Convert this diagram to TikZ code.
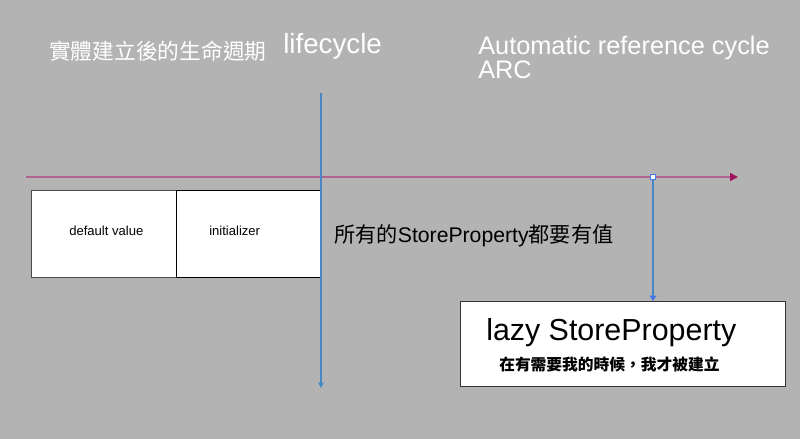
\documentclass[tikz,border=0pt]{standalone}
\usepackage{fontspec}
\setmainfont{Liberation Sans}
\newfontfamily\cjk{Noto Sans CJK TC}
\newfontfamily\cjkmed{Noto Sans CJK TC Medium}
\usetikzlibrary{arrows.meta}
\definecolor{bg}{RGB}{179,179,179}
\definecolor{tline}{RGB}{178,100,145}
\definecolor{ttip}{RGB}{160,20,95}
\definecolor{vline}{RGB}{72,135,195}
\definecolor{vtip}{RGB}{70,120,230}
\tikzset{
  px/.style={x=0.75pt,y=-0.75pt},
  wbox/.style={draw=black,line width=1.1pt,fill=white,inner sep=0pt,anchor=north west},
  small/.style={font=\fontsize{9.8pt}{11pt}\selectfont,anchor=west,inner sep=0pt},
  wtext/.style={text=white,inner sep=0pt,anchor=west},
}
\begin{document}
\begin{tikzpicture}[px]
\fill[bg] (0,0) rectangle (800,439);
\useasboundingbox (0,0) rectangle (800,439);
% titles
\node[wtext,font=\cjk\fontsize{16.3pt}{18pt}\selectfont] (title) at (49,51) {實體建立後的生命週期};
\node[wtext,font=\fontsize{20.8pt}{22pt}\selectfont] (life) at (283,46) {lifecycle};
\node[wtext,font=\fontsize{19pt}{21pt}\selectfont,align=left,anchor=north west] (arc) at (478,36) {Automatic reference cycle\\[-3pt]ARC};
% boxes
\node[wbox,draw=black!70,minimum width=145*0.75pt,minimum height=87*0.75pt] (dv) at (31,190) {};
\node[small] (dvt) at (69,231) {default value};
\node[wbox,minimum width=145*0.75pt,minimum height=87*0.75pt] (ini) at (176,190) {};
\node[small] (init) at (209,231) {initializer};
% all store property text
\node[anchor=west,inner sep=0pt,font=\fontsize{15.9pt}{17pt}\selectfont] (allsp) at (334,236) {\cjk 所有的\rmfamily StoreProperty\cjk 都要有值};
% lazy box
\node[wbox,draw=black!80,minimum width=325*0.75pt,minimum height=85*0.75pt] (lazy) at (460,301) {};
\node[anchor=west,inner sep=0pt,font=\fontsize{22.8pt}{24pt}\selectfont] (lazyt) at (486,333) {lazy StoreProperty};
\node[anchor=west,inner sep=0pt,font=\cjk\bfseries\fontsize{11.8pt}{13pt}\selectfont] (lazyc) at (499,364) {在有需要我的時候，我才被建立};
% timeline
\coordinate (hs) at (26,177);
\coordinate (he) at (738,177);
\draw[tline,line width=1.3pt,-{Triangle[length=6pt,width=6pt,color=ttip]}] (hs) -- (he);
% lifecycle vertical
\coordinate (vs) at (321,93);
\coordinate (ve) at (321,388);
\draw[vline,line width=0.8pt,-{Triangle[length=4pt,width=4pt]}] (vs) -- (ve);
% junction to lazy
\node[draw=vtip,fill=white,line width=0.6pt,minimum size=4pt,inner sep=0pt] (jn) at (653,177) {};
\draw[vline,line width=1pt,-{Triangle[length=4pt,width=5pt,color=vtip]}] (jn.south) -- (jn |- lazy.north);
\end{tikzpicture}
\end{document}
